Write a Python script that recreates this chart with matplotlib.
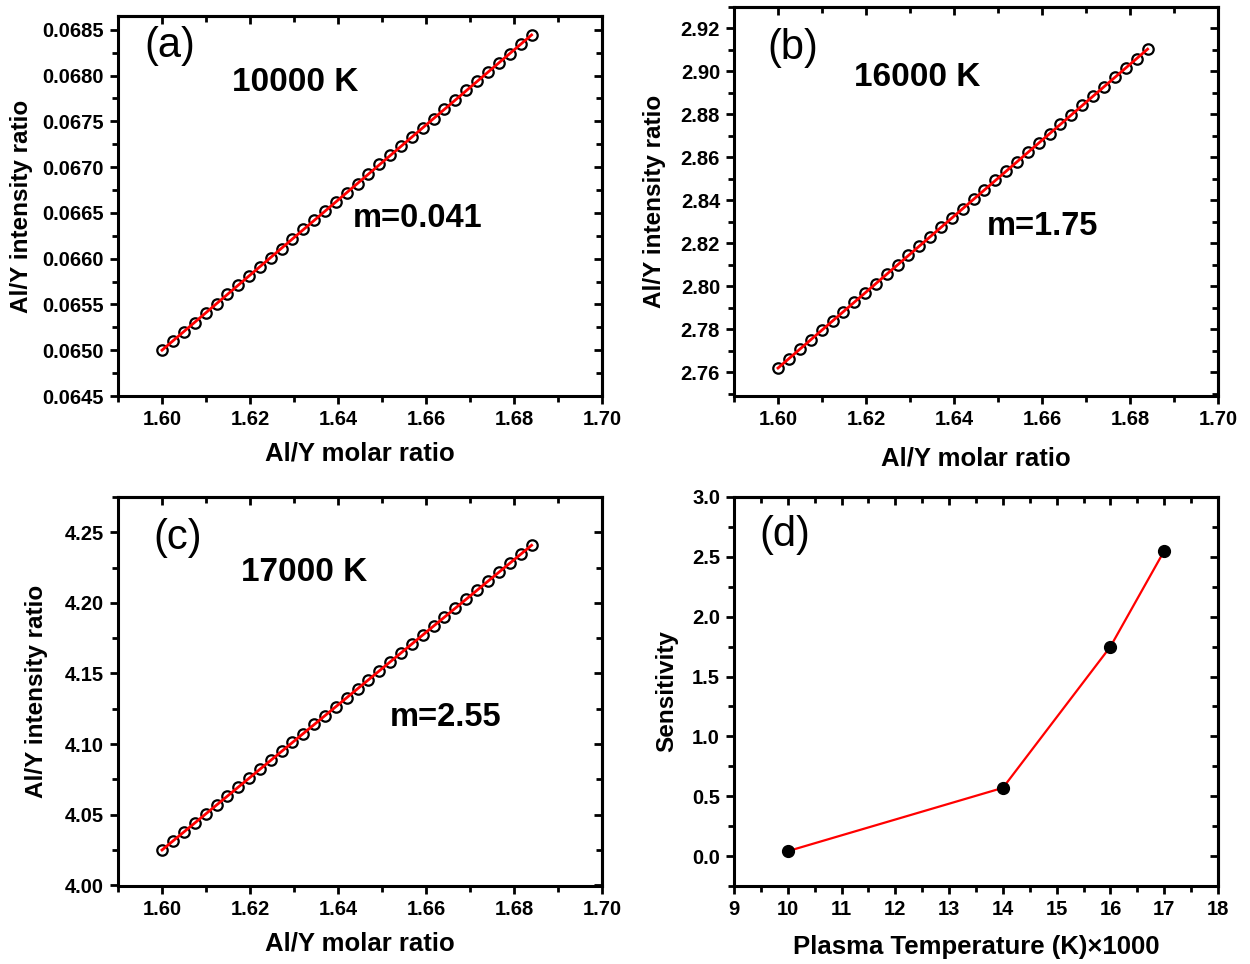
import numpy as np
import matplotlib.pyplot as plt
from matplotlib.ticker import MultipleLocator, FormatStrFormatter

plt.rcParams["font.family"] = ["Liberation Sans", "DejaVu Sans"]

# Al/Y molar ratio (shared by panels a-c)
molar = [1.6000, 1.6025, 1.6049, 1.6074, 1.6099, 1.6124, 1.6148, 1.6173, 1.6198,
         1.6222, 1.6247, 1.6272, 1.6296, 1.6321, 1.6346, 1.6371, 1.6395, 1.6420,
         1.6445, 1.6469, 1.6494, 1.6519, 1.6544, 1.6568, 1.6593, 1.6618, 1.6642,
         1.6667, 1.6692, 1.6716, 1.6741, 1.6766, 1.6791, 1.6815, 1.6840]

# Al/Y intensity ratio at 10000 K
ratio_10000 = [0.06500, 0.06510, 0.06520, 0.06530, 0.06541, 0.06551, 0.06561,
               0.06571, 0.06581, 0.06591, 0.06601, 0.06611, 0.06622, 0.06632,
               0.06642, 0.06652, 0.06662, 0.06672, 0.06682, 0.06692, 0.06703,
               0.06713, 0.06723, 0.06733, 0.06743, 0.06753, 0.06763, 0.06773,
               0.06784, 0.06794, 0.06804, 0.06814, 0.06824, 0.06834, 0.06844]

# Al/Y intensity ratio at 16000 K
ratio_16000 = [2.7620, 2.7664, 2.7707, 2.7751, 2.7795, 2.7838, 2.7882, 2.7926,
               2.7969, 2.8013, 2.8057, 2.8100, 2.8144, 2.8187, 2.8231, 2.8275,
               2.8318, 2.8362, 2.8406, 2.8449, 2.8493, 2.8537, 2.8580, 2.8624,
               2.8668, 2.8711, 2.8755, 2.8798, 2.8842, 2.8886, 2.8929, 2.8973,
               2.9017, 2.9060, 2.9104]

# Al/Y intensity ratio at 17000 K
ratio_17000 = [4.0250, 4.0313, 4.0377, 4.0440, 4.0504, 4.0567, 4.0631, 4.0694,
               4.0758, 4.0821, 4.0885, 4.0948, 4.1012, 4.1075, 4.1139, 4.1202,
               4.1266, 4.1329, 4.1392, 4.1456, 4.1519, 4.1583, 4.1646, 4.1710,
               4.1773, 4.1837, 4.1900, 4.1964, 4.2027, 4.2091, 4.2154, 4.2218,
               4.2281, 4.2345, 4.2408]

# sensitivity (slope) vs plasma temperature
temps = [10, 14, 16, 17]
sensitivity = [0.041, 0.57, 1.75, 2.55]

W, H = 1250, 964
fig = plt.figure(figsize=(W / 100, H / 100), dpi=100)

TICK_FS = 14.5
LABEL_FS = 18.5
YLABEL_FS = 17.5


def axes_px(left, top, right, bottom):
    return fig.add_axes([left / W, 1 - bottom / H, (right - left) / W, (bottom - top) / H])


def style(ax):
    for s in ax.spines.values():
        s.set_linewidth(2.2)
    ax.tick_params(which="both", direction="out", width=2, labelsize=TICK_FS, pad=4)
    ax.tick_params(which="major", length=6)
    ax.tick_params(which="minor", length=4)
    for lab in ax.get_xticklabels() + ax.get_yticklabels():
        lab.set_fontweight("bold")


def mirror_inward(ax):
    # second set of ticks on top and right, drawn inward
    sx = ax.secondary_xaxis("top")
    sy = ax.secondary_yaxis("right")
    sx.xaxis.set_major_locator(ax.xaxis.get_major_locator())
    sx.xaxis.set_minor_locator(ax.xaxis.get_minor_locator())
    sy.yaxis.set_major_locator(ax.yaxis.get_major_locator())
    sy.yaxis.set_minor_locator(ax.yaxis.get_minor_locator())
    for sec in (sx, sy):
        sec.tick_params(which="both", direction="in", width=2, labelsize=0)
        sec.tick_params(which="major", length=6)
        sec.tick_params(which="minor", length=4)
        sec.spines[:].set_linewidth(2.2)
    sx.set_xticklabels([])
    sy.set_yticklabels([])


def labels(ax, xlabel, ylabel, xlab_y, ylab_x):
    ax.set_xlabel(xlabel, fontsize=LABEL_FS, fontweight="bold")
    ax.set_ylabel(ylabel, fontsize=YLABEL_FS, fontweight="bold")
    ax.xaxis.set_label_coords(0.5, xlab_y)
    ax.yaxis.set_label_coords(ylab_x, 0.5)


def ratio_panel(ax, y, ylim, ymaj, fmt, tag, temp_txt, slope_txt,
                tag_xy, temp_xy, slope_xy, xlab_y, ylab_x):
    x = np.array(molar)
    yv = np.array(y)
    fit = np.polyfit(x, yv, 1)
    ax.plot(x, yv, "o", ms=7.5, mfc="none", mec="black", mew=1.6, zorder=2)
    ax.plot(x, np.polyval(fit, x), color="red", lw=2, zorder=3)
    ax.set_xlim(1.59, 1.70)
    ax.set_ylim(*ylim)
    ax.xaxis.set_major_locator(MultipleLocator(0.02))
    ax.xaxis.set_minor_locator(MultipleLocator(0.01))
    ax.yaxis.set_major_locator(MultipleLocator(ymaj))
    ax.yaxis.set_minor_locator(MultipleLocator(ymaj / 2))
    ax.xaxis.set_major_formatter(FormatStrFormatter("%.2f"))
    ax.yaxis.set_major_formatter(FormatStrFormatter(fmt))
    style(ax)
    mirror_inward(ax)
    labels(ax, "Al/Y molar ratio", "Al/Y intensity ratio", xlab_y, ylab_x)
    ax.text(*tag_xy, tag, transform=ax.transAxes, fontsize=30, ha="center", va="center")
    ax.text(*temp_xy, temp_txt, transform=ax.transAxes, fontsize=24, fontweight="bold",
            ha="center", va="center")
    ax.text(*slope_xy, slope_txt, transform=ax.transAxes, fontsize=23.5, fontweight="bold",
            ha="center", va="center")


ax_a = axes_px(118, 16, 602, 396)
ratio_panel(ax_a, ratio_10000, (0.0645, 0.06865), 0.0005, "%.4f", "(a)", "10000 K", "m=0.041",
            (0.107, 0.921), (0.366, 0.826), (0.618, 0.468), -0.12, -0.176)

ax_b = axes_px(734, 7, 1218, 396)
ratio_panel(ax_b, ratio_16000, (2.749, 2.93), 0.02, "%.2f", "(b)", "16000 K", "m=1.75",
            (0.122, 0.895), (0.378, 0.820), (0.638, 0.437), -0.131, -0.14)

ax_c = axes_px(118, 497, 602, 886)
ratio_panel(ax_c, ratio_17000, (3.9995, 4.275), 0.05, "%.2f", "(c)", "17000 K", "m=2.55",
            (0.124, 0.895), (0.384, 0.807), (0.676, 0.434), -0.118, -0.145)

ax_d = axes_px(734, 497, 1218, 886)
ax_d.plot(temps, sensitivity, color="red", lw=1.6, zorder=2)
ax_d.plot(temps, sensitivity, "o", ms=8.5, color="black", zorder=3)
ax_d.set_xlim(9, 18)
ax_d.set_ylim(-0.25, 3.0)
ax_d.xaxis.set_major_locator(MultipleLocator(1))
ax_d.xaxis.set_minor_locator(MultipleLocator(0.5))
ax_d.yaxis.set_major_locator(MultipleLocator(0.5))
ax_d.yaxis.set_minor_locator(MultipleLocator(0.25))
ax_d.yaxis.set_major_formatter(FormatStrFormatter("%.1f"))
style(ax_d)
mirror_inward(ax_d)
labels(ax_d, "Plasma Temperature (K)×1000", "Sensitivity", -0.126, -0.116)
ax_d.text(0.105, 0.902, "(d)", transform=ax_d.transAxes, fontsize=30, ha="center", va="center")

fig.savefig("out.png", dpi=100)
